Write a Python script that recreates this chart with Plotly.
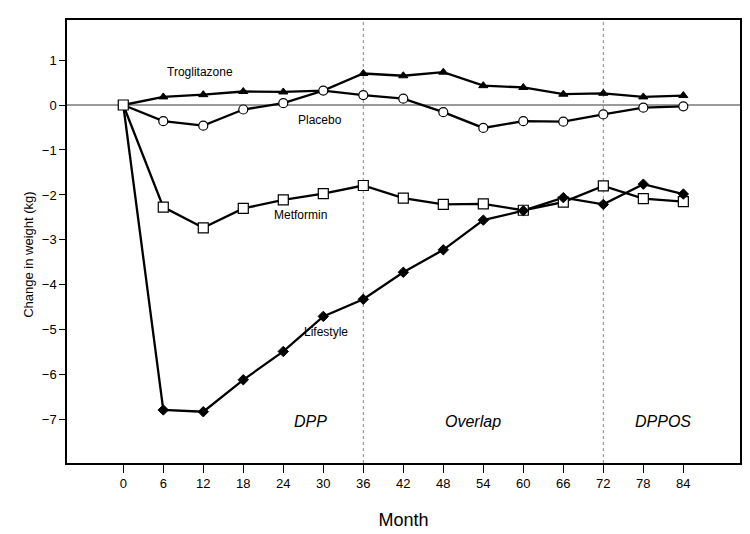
import plotly.graph_objects as go

months = [0, 6, 12, 18, 24, 30, 36, 42, 48, 54, 60, 66, 72, 78, 84]
troglitazone = [0, 0.18, 0.23, 0.30, 0.29, 0.32, 0.70, 0.65, 0.73, 0.43, 0.39, 0.24, 0.26, 0.18, 0.21]
placebo = [0, -0.36, -0.46, -0.10, 0.04, 0.32, 0.22, 0.14, -0.16, -0.51, -0.36, -0.37, -0.21, -0.06, -0.03]
metformin = [0, -2.27, -2.73, -2.30, -2.11, -1.97, -1.79, -2.07, -2.21, -2.20, -2.34, -2.16, -1.80, -2.08, -2.15]
lifestyle = [0, -6.78, -6.82, -6.11, -5.48, -4.70, -4.32, -3.72, -3.22, -2.56, -2.35, -2.06, -2.21, -1.76, -1.98]

period_bounds = [36, 72]
period_names = ["DPP", "Overlap", "DPPOS"]
period_x = [28.1, 52.5, 80.9]
series_names = ["Troglitazone", "Placebo", "Metformin", "Lifestyle"]
label_x = [11.5, 29.5, 26.6, 30.4]
label_y = [0.73, -0.33, -2.44, -5.04]
y_ticks = [1, 0, -1, -2, -3, -4, -5, -6, -7]

FONT = "Liberation Sans, Arial, Helvetica, sans-serif"

fig = go.Figure()

# zero reference line
fig.add_hline(y=0, line=dict(color="#9a9a9a", width=2), layer="below")
for b in period_bounds:
    fig.add_vline(x=b, line=dict(color="#888888", width=1, dash="dot"), layer="below")

series = [troglitazone, placebo, metformin, lifestyle]
# lines first
for name, ys in zip(series_names, series):
    fig.add_trace(go.Scatter(x=months, y=ys, mode="lines", name=name,
                             line=dict(color="black", width=2.3), showlegend=False,
                             hoverinfo="skip"))

marker_styles = [
    dict(symbol="triangle-up", color="black", size=8, opacity=1, line=dict(color="black", width=1)),
    dict(symbol="circle", color="white", size=9, opacity=1, line=dict(color="black", width=1.2)),
    dict(symbol="square", color="white", size=10, opacity=1, line=dict(color="black", width=1.2)),
    dict(symbol="diamond", color="black", size=[0] + [8] * (len(months) - 1), opacity=1,
         line=dict(color="black", width=1)),
]
for name, ys, ms in zip(series_names, series, marker_styles):
    fig.add_trace(go.Scatter(x=months, y=ys, mode="markers", name=name,
                             marker=ms, showlegend=False))

for name, lx, ly in zip(series_names, label_x, label_y):
    fig.add_annotation(x=lx, y=ly, text=name, showarrow=False,
                       font=dict(family=FONT, size=12, color="black"))

for name, px in zip(period_names, period_x):
    fig.add_annotation(x=px, y=-7.04, text="<i>" + name + "</i>", showarrow=False,
                       font=dict(family=FONT, size=16, color="black"))

fig.add_annotation(xref="paper", yref="paper", x=-0.0706, y=0.47,
                   text="Change in weight (kg)", textangle=-90, showarrow=False,
                   font=dict(family=FONT, size=13, color="black"))

fig.update_layout(
    width=750, height=534,
    margin=dict(l=59, r=18, t=12, b=79, autoexpand=False),
    paper_bgcolor="white", plot_bgcolor="white",
    font=dict(family=FONT, size=13, color="black"),
    xaxis=dict(range=[-8.44, 92.5], tickmode="array", tickvals=months,
               ticktext=[str(m) for m in months], ticks="outside", ticklen=8,
               tickwidth=1, tickcolor="black", showgrid=False, zeroline=False,
               showline=True, linecolor="black", linewidth=1.5, mirror=True,
               automargin=False,
               title=dict(text="Month", font=dict(size=18), standoff=23),
               tickfont=dict(size=13)),
    yaxis=dict(range=[-7.96, 1.89], tickmode="array", tickvals=y_ticks,
               ticks="outside", ticklen=6, tickwidth=1, tickcolor="black",
               showgrid=False, zeroline=False, showline=True, linecolor="black",
               linewidth=1.5, mirror=True, automargin=False, tickfont=dict(size=13)),
)

fig.write_html("out.html")
